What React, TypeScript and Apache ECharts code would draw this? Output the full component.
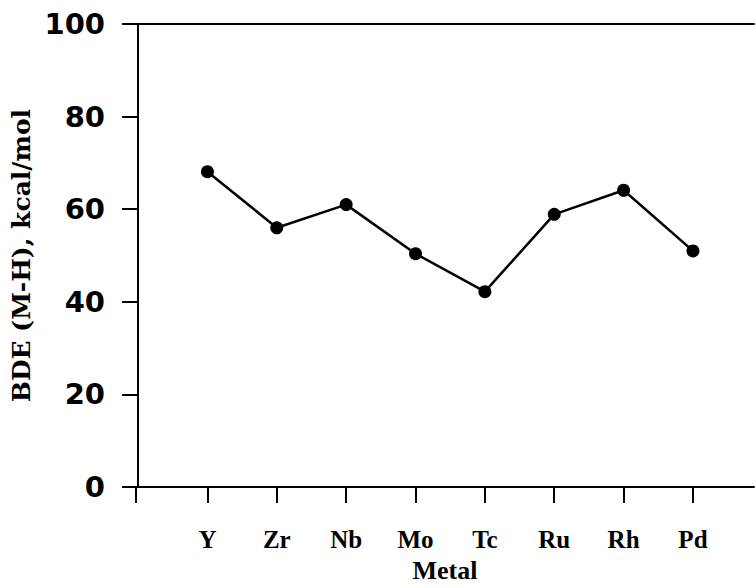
import React, { useEffect, useRef } from "react";
import * as echarts from "echarts";

const metals = ["Y", "Zr", "Nb", "Mo", "Tc", "Ru", "Rh", "Pd"];
const bde = [68.1, 56.0, 61.0, 50.4, 42.2, 58.9, 64.1, 51.0];
const yTicks = [0, 20, 40, 60, 80, 100];
const X_MIN = -0.03;
const X_MAX = 8.88;

export default function App() {
  const ref = useRef<HTMLDivElement>(null);
  useEffect(() => {
    if (!ref.current) return;
    const chart = echarts.init(ref.current, null, { renderer: "svg" });
    const axisLine = { show: true, lineStyle: { color: "#000", width: 2 } };
    const catPositions = metals.map((m, i) => i + 1);
    chart.setOption({
      animation: false,
      backgroundColor: "#fff",
      grid: { left: 136, right: 2, top: 24, bottom: 91, containLabel: false },
      xAxis: [
        {
          type: "value",
          min: X_MIN,
          max: X_MAX,
          position: "bottom",
          axisLine,
          splitLine: { show: false },
          axisTick: {
            show: true,
            length: 16,
            lineStyle: { color: "#000", width: 2 },
            customValues: [X_MIN, ...catPositions],
          },
          axisLabel: {
            customValues: catPositions,
            formatter: (v: number) => metals[Math.round(v) - 1] ?? "",
            margin: 40,
            color: "#000",
            fontFamily: "Liberation Serif",
            fontWeight: "bold",
            fontSize: 25,
          },
          name: "Metal",
          nameLocation: "middle",
          nameGap: 68,
          nameTextStyle: {
            color: "#000",
            fontFamily: "Liberation Serif",
            fontWeight: "bold",
            fontSize: 26,
          },
        },
        {
          type: "value",
          min: X_MIN,
          max: X_MAX,
          position: "top",
          axisLine,
          axisTick: { show: false },
          axisLabel: { show: false },
          splitLine: { show: false },
        },
      ],
      yAxis: {
        type: "value",
        min: 0,
        max: 100,
        interval: 20,
        axisLine,
        splitLine: { show: false },
        axisTick: {
          show: true,
          length: 16,
          lineStyle: { color: "#000", width: 2 },
          customValues: yTicks,
        },
        axisLabel: {
          customValues: yTicks,
          margin: 31,
          color: "#000",
          fontFamily: "DejaVu Sans",
          fontWeight: "bold",
          fontSize: 29,
        },
        name: "BDE (M-H), kcal/mol",
        nameLocation: "middle",
        nameGap: 94,
        nameTextStyle: {
          color: "#000",
          fontFamily: "DejaVu Serif",
          fontWeight: "bold",
          fontSize: 25,
        },
      },
      series: [
        {
          type: "line",
          xAxisIndex: 0,
          data: metals.map((m, i) => [i + 1, bde[i]]),
          symbol: "circle",
          symbolSize: 13,
          itemStyle: { color: "#000" },
          lineStyle: { color: "#000", width: 2.5 },
        },
      ],
    });
    return () => chart.dispose();
  }, []);
  return (
    <div
      ref={ref}
      style={{ position: "fixed", left: 0, top: 0, width: 756, height: 588, background: "#fff" }}
    />
  );
}
